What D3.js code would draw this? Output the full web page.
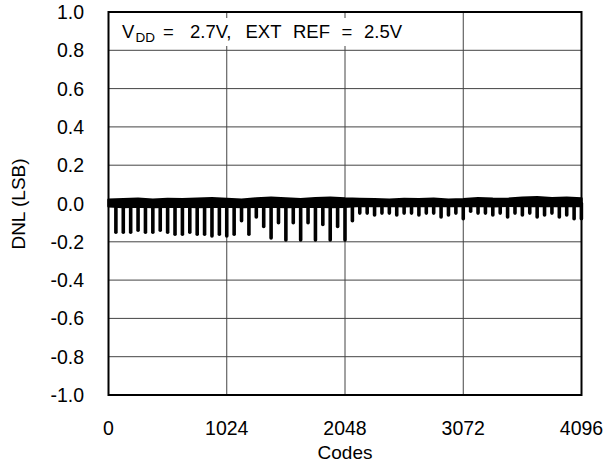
<!DOCTYPE html>
<html><head><meta charset="utf-8">
<script src="https://cdn.jsdelivr.net/npm/d3@7"></script>
<style>body{margin:0;background:#fff}svg text{font-family:"Liberation Sans",Arial,sans-serif;fill:#000}</style>
</head><body>
<svg id="c" width="604" height="465"></svg>
<script>
// ---- data ----
const xTicks = [0, 1024, 2048, 3072, 4096];
const yTicks = [1.0, 0.8, 0.6, 0.4, 0.2, 0.0, -0.2, -0.4, -0.6, -0.8, -1.0];
const spikeStep = 64; // codes between DNL spikes
// spike DNL values at codes 64, 128, ..., 4032, 4095
const spikeValues = [
  -0.15, -0.15, -0.15, -0.14, -0.15, -0.15, -0.14, -0.15, -0.16, -0.16, -0.15, -0.16, -0.16, -0.17, -0.16,
  -0.17, -0.16, -0.09, -0.16, -0.07, -0.12, -0.18, -0.10, -0.19,
  -0.10, -0.19, -0.10, -0.19, -0.11, -0.19, -0.12, -0.19,
  -0.09, -0.05, -0.05, -0.06, -0.05, -0.05, -0.06, -0.05, -0.05, -0.06, -0.05, -0.05, -0.07, -0.06, -0.05, -0.08,
  -0.04, -0.05, -0.05, -0.06, -0.05, -0.07, -0.05, -0.06, -0.05, -0.07, -0.06, -0.05, -0.07, -0.06, -0.08, -0.08
];
// upper / lower envelope of the dense noise band, every 128 codes (0..4096)
const bandHigh = [0.02, 0.022, 0.025, 0.02, 0.024, 0.022, 0.025, 0.028, 0.024, 0.02, 0.026, 0.03, 0.026, 0.022, 0.028, 0.03, 0.026,
  0.024, 0.022, 0.02, 0.024, 0.022, 0.025, 0.02, 0.022, 0.028, 0.025, 0.024, 0.03, 0.032, 0.028, 0.03, 0.026];
const bandLow = [-0.015, -0.018, -0.016, -0.018, -0.017, -0.016, -0.018, -0.017, -0.016, -0.018, -0.017, -0.016, -0.018, -0.017, -0.016, -0.018, -0.017,
  -0.012, -0.013, -0.012, -0.014, -0.012, -0.013, -0.012, -0.013, -0.012, -0.014, -0.012, -0.013, -0.012, -0.013, -0.012, -0.013];

// ---- layout ----
const L = 108.5, R = 581.5, T = 12, B = 395;
const svg = d3.select("#c");
const x = d3.scaleLinear().domain([0, 4096]).range([L, R]);
const y = d3.scaleLinear().domain([-1, 1]).range([B, T]);

// grid
const g = svg.append("g");
g.selectAll(".gx").data(xTicks.slice(1, -1)).join("line")
  .attr("x1", d => x(d)).attr("x2", d => x(d)).attr("y1", T).attr("y2", B)
  .attr("stroke", "#444").attr("stroke-width", 1);
g.selectAll(".gy").data(yTicks.slice(1, -1)).join("line")
  .attr("x1", L).attr("x2", R).attr("y1", d => y(d)).attr("y2", d => y(d))
  .attr("stroke", "#444").attr("stroke-width", 1);

// annotation background
svg.append("rect").attr("x", 112).attr("y", 18).attr("width", 300).attr("height", 28).attr("fill", "#fff");

// noise band
const bandCodes = bandHigh.map((_, i) => i * 128);
const area = d3.area().x((d, i) => x(bandCodes[i])).y0((d, i) => y(bandLow[i])).y1(d => y(d)).curve(d3.curveLinear);
svg.append("path").datum(bandHigh).attr("d", area).attr("fill", "#000").attr("stroke", "#000").attr("stroke-width", 2.5).attr("stroke-linejoin", "round");

// spikes
const spikeCodes = spikeValues.map((_, i) => Math.min((i + 1) * spikeStep, 4095));
svg.append("g").selectAll("line").data(spikeValues).join("line")
  .attr("x1", (d, i) => x(spikeCodes[i])).attr("x2", (d, i) => x(spikeCodes[i]))
  .attr("y1", y(0)).attr("y2", d => y(d))
  .attr("stroke", "#000").attr("stroke-width", 3.6).attr("stroke-linecap", "round");

// frame
svg.append("rect").attr("x", L).attr("y", T).attr("width", R - L).attr("height", B - T)
  .attr("fill", "none").attr("stroke", "#000").attr("stroke-width", 2);

// axes labels
svg.append("g").selectAll("text").data(yTicks).join("text")
  .attr("x", 84).attr("y", d => y(d) + 7).attr("text-anchor", "end").attr("font-size", 19.5)
  .text(d => d.toFixed(1));
svg.append("g").selectAll("text").data(xTicks).join("text")
  .attr("x", d => x(d)).attr("y", 435).attr("text-anchor", "middle").attr("font-size", 19.5)
  .text(d => d);
svg.append("text").attr("x", x(2048)).attr("y", 459).attr("text-anchor", "middle").attr("font-size", 19).text("Codes");
svg.append("text").attr("transform", "translate(25,204) rotate(-90)").attr("text-anchor", "middle").attr("font-size", 19).text("DNL (LSB)");

// annotation (pieces placed as in the reference)
const ann = svg.append("g").attr("font-size", 18.5);
ann.append("text").attr("x", 122).attr("y", 38).text("V");
ann.append("text").attr("x", 135.5).attr("y", 42).attr("font-size", 13.5).text("DD");
ann.append("text").attr("x", 163).attr("y", 38).text("=");
ann.append("text").attr("x", 190).attr("y", 38).text("2.7V,");
ann.append("text").attr("x", 245.5).attr("y", 38).text("EXT");
ann.append("text").attr("x", 293).attr("y", 38).text("REF");
ann.append("text").attr("x", 341.5).attr("y", 38).text("=");
ann.append("text").attr("x", 364).attr("y", 38).text("2.5V");
</script>
</body></html>
